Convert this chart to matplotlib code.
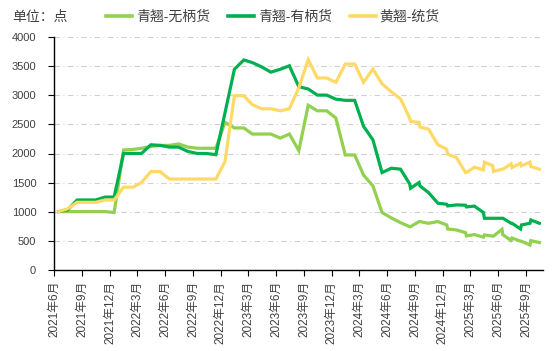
import matplotlib
matplotlib.use("Agg")
import matplotlib.pyplot as plt
import matplotlib.dates as mdates
import pandas as pd

plt.rcParams['font.family'] = ['Liberation Sans', 'Noto Sans CJK SC', 'DejaVu Sans']

dates = ['2021-06-15','2021-07-15','2021-08-15','2021-09-15','2021-10-15','2021-11-15','2021-12-15',
         '2022-01-15','2022-02-15','2022-03-15','2022-04-15','2022-05-15','2022-06-15','2022-07-15',
         '2022-08-15','2022-09-15','2022-10-15','2022-11-15','2022-12-15',
         '2023-01-15','2023-02-15','2023-03-15','2023-04-15','2023-05-15','2023-06-15','2023-07-15',
         '2023-08-15','2023-09-15','2023-10-15','2023-11-15','2023-12-15',
         '2024-01-15','2024-02-15','2024-03-15','2024-04-15','2024-05-15','2024-06-15','2024-07-15',
         '2024-08-14','2024-08-17','2024-09-14','2024-09-17','2024-10-15','2024-11-15',
         '2024-12-14','2024-12-17','2025-01-15','2025-02-14','2025-02-17','2025-03-15',
         '2025-04-14','2025-04-17','2025-05-14','2025-05-17','2025-06-14','2025-06-17',
         '2025-07-14','2025-07-17','2025-08-14','2025-08-17','2025-09-14','2025-09-17','2025-10-15']

qingqiao_wubing = [1000,1000,1000,1000,1000,1000,985,
                   2060,2070,2090,2120,2140,2140,2165,
                   2110,2090,2090,2090,2535,
                   2440,2440,2335,2335,2335,2265,2335,
                   2050,2830,2735,2735,2610,
                   1975,1975,1630,1442,985,890,810,
                   741,741,828,828,799,828,
                   770,701,684,638,580,605,
                   560,598,578,578,695,600,
                   505,545,490,490,425,500,468]

qingqiao_youbing = [1000,1030,1200,1200,1200,1250,1250,
                    2000,2000,2000,2150,2140,2110,2110,
                    2035,2000,2000,1980,2700,
                    3450,3610,3565,3490,3400,3450,3510,
                    3150,3110,3005,3005,2935,
                    2915,2915,2470,2235,1672,1747,1730,
                    1477,1402,1500,1442,1328,1144,
                    1126,1098,1115,1110,1080,1095,
                    983,885,885,885,885,885,
                    799,799,701,770,799,856,799]

huangqiao_tong = [1000,1050,1160,1160,1160,1200,1200,
                  1420,1420,1500,1690,1690,1560,1560,
                  1560,1560,1560,1560,1860,
                  2995,2995,2840,2770,2770,2735,2770,
                  3130,3615,3300,3300,3225,
                  3540,3540,3225,3455,3200,3060,2940,
                  2609,2552,2535,2454,2420,2149,
                  2075,1988,1931,1672,1672,1764,
                  1718,1851,1793,1690,1730,1730,
                  1822,1758,1833,1787,1851,1776,1730]

series_names = ['青翘-无柄货', '青翘-有柄货', '黄翘-统货']
series_colors = ['#92D050', '#00B050', '#FFD966']

tick_dates = pd.date_range('2021-06-01', '2025-09-01', freq='3MS')
tick_labels = [f'{d.year}年{d.month}月' for d in tick_dates]

x = pd.to_datetime(dates)

fig = plt.figure(figsize=(5.54, 3.51), dpi=100)
ax = fig.add_axes([54.3/554, 1 - 269.7/351, (543 - 54.3)/554, (269.7 - 37.3)/351])

for vals, name, col in zip([qingqiao_wubing, qingqiao_youbing, huangqiao_tong], series_names, series_colors):
    ax.plot(x, vals, color=col, lw=2.3, label=name, solid_joinstyle='miter', zorder=3)

ax.set_ylim(0, 4000)
ax.set_yticks(range(0, 4001, 500))
ax.set_xlim(pd.Timestamp('2021-06-01'), pd.Timestamp('2025-10-27'))
ax.set_xticks(tick_dates)
ax.set_xticklabels(tick_labels, rotation=90, fontsize=8.5, color='#404040')
ax.tick_params(axis='y', labelsize=8, labelcolor='#404040', length=4, width=0.8, direction='out', pad=9)
ax.tick_params(axis='x', length=4, width=0.8, direction='out', pad=4)

ax.grid(axis='y', color='#D0D0D0', linestyle=(0, (5, 3, 1, 3)), linewidth=0.8, zorder=0)
ax.set_axisbelow(True)
for s in ['top', 'right']:
    ax.spines[s].set_visible(False)
ax.spines['left'].set_linewidth(1.0)
ax.spines['bottom'].set_linewidth(1.0)

fig.text(12/554, 1 - 17/351, '单位：点', fontsize=10, color='#404040', va='center', ha='left')
leg = fig.legend(loc='center left', bbox_to_anchor=(106/554, 1 - 17/351), ncol=3, frameon=False,
                 fontsize=10, handlelength=1.9, handletextpad=0.25, columnspacing=1.3,
                 borderaxespad=0, borderpad=0)
for t in leg.get_texts():
    t.set_color('#404040')
for h in leg.get_lines():
    h.set_linewidth(2.6)

fig.savefig('out.png', dpi=100)
